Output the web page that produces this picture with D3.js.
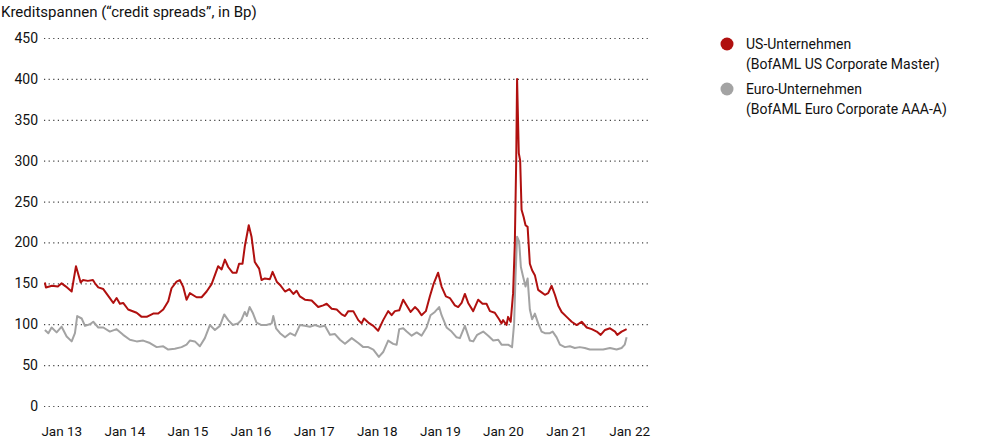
<!DOCTYPE html>
<html>
<head>
<meta charset="utf-8">
<script src="https://cdn.jsdelivr.net/npm/d3@7"></script>
<style>
  html, body { margin: 0; padding: 0; background: #fff; }
  svg { display: block; font-family: Roboto, "Noto Sans", sans-serif; }
</style>
</head>
<body>
<svg id="chart" width="993" height="442"></svg>
<script>
// ---------------- DATA ----------------
const title = "Kreditspannen (\u201Ccredit spreads\u201D, in Bp)";
const yTicks = [0, 50, 100, 150, 200, 250, 300, 350, 400, 450];
const xTickDates = ["2013-01-01","2014-01-01","2015-01-01","2016-01-01","2017-01-01","2018-01-01","2019-01-01","2020-01-01","2021-01-01","2022-01-01"];
const xTickLabels = ["Jan 13","Jan 14","Jan 15","Jan 16","Jan 17","Jan 18","Jan 19","Jan 20","Jan 21","Jan 22"];

const seriesNames = ["US-Unternehmen", "Euro-Unternehmen"];
const seriesSubNames = ["(BofAML US Corporate Master)", "(BofAML Euro Corporate AAA-A)"];

const usDates = ["2012-09-28","2012-10-04","2012-11-08","2012-12-12","2013-01-03","2013-01-28","2013-03-02","2013-03-27","2013-04-23","2013-05-06","2013-06-04","2013-07-03","2013-07-15","2013-08-03","2013-09-01","2013-10-09","2013-10-29","2013-11-17","2013-12-06","2013-12-25","2014-01-23","2014-03-13","2014-04-11","2014-05-10","2014-06-17","2014-07-16","2014-08-14","2014-09-12","2014-10-01","2014-10-30","2014-11-18","2014-12-07","2014-12-27","2015-01-15","2015-02-23","2015-03-24","2015-04-22","2015-05-21","2015-06-28","2015-07-18","2015-08-06","2015-08-25","2015-09-19","2015-10-12","2015-10-27","2015-11-16","2015-11-29","2015-12-22","2016-01-07","2016-01-26","2016-02-20","2016-03-05","2016-03-24","2016-04-22","2016-05-08","2016-06-01","2016-06-20","2016-07-19","2016-08-13","2016-09-05","2016-09-24","2016-10-13","2016-11-11","2016-12-20","2017-01-27","2017-02-25","2017-03-17","2017-04-15","2017-05-14","2017-06-12","2017-07-01","2017-07-20","2017-08-18","2017-09-16","2017-10-05","2017-10-19","2017-11-13","2017-12-12","2018-01-09","2018-02-07","2018-03-08","2018-03-28","2018-04-16","2018-05-11","2018-06-03","2018-06-23","2018-07-16","2018-08-10","2018-08-29","2018-09-17","2018-10-12","2018-11-04","2018-11-27","2018-12-22","2019-01-11","2019-02-05","2019-02-28","2019-03-29","2019-04-17","2019-05-07","2019-05-26","2019-06-14","2019-07-13","2019-08-11","2019-09-05","2019-09-28","2019-10-18","2019-11-15","2019-12-10","2019-12-24","2020-01-02","2020-01-22","2020-01-31","2020-02-15","2020-02-29","2020-03-10","2020-03-18","2020-03-23","2020-04-02","2020-04-10","2020-04-18","2020-04-30","2020-05-11","2020-05-23","2020-06-05","2020-06-18","2020-07-04","2020-07-23","2020-08-12","2020-08-31","2020-09-19","2020-10-09","2020-10-28","2020-11-16","2020-12-06","2021-01-04","2021-02-02","2021-03-03","2021-04-01","2021-04-30","2021-05-29","2021-06-27","2021-07-20","2021-08-14","2021-09-12","2021-10-11","2021-10-24","2021-11-18","2021-12-17"];
const usValues = [151,145,147,146,150,146,140,171,151,154,153,154,150,145,143,132,126,132,125,126,118,114,109,109,113,113,118,128,144,152,154,146,130,138,133,133,140,149,171,167,179,170,163,163,174,174,195,221,207,176,168,154,156,155,164,152,148,140,143,137,141,134,130,129,121,123,125,119,118,112,110,116,116,105,101,107,102,98,92,105,116,111,116,117,130,123,115,121,117,111,116,134,150,163,146,134,132,123,121,126,137,126,116,130,125,125,116,114,106,101,105,99,109,103,138,199,300,400,309,300,240,231,221,219,174,166,160,142,139,136,138,147,136,123,115,109,103,99,103,96,94,91,87,93,95,91,87,91,94];

const euDates = ["2012-09-28","2012-10-18","2012-11-06","2012-12-05","2013-01-03","2013-02-01","2013-03-02","2013-03-21","2013-04-03","2013-04-29","2013-05-18","2013-06-16","2013-07-05","2013-08-03","2013-09-01","2013-10-09","2013-11-17","2013-12-25","2014-02-02","2014-03-13","2014-04-20","2014-05-29","2014-07-07","2014-08-14","2014-09-12","2014-10-20","2014-11-28","2014-12-27","2015-01-15","2015-02-13","2015-03-14","2015-04-12","2015-05-11","2015-06-09","2015-07-08","2015-08-02","2015-08-25","2015-09-21","2015-10-20","2015-11-09","2015-11-29","2015-12-11","2015-12-27","2016-01-16","2016-02-05","2016-03-05","2016-04-03","2016-05-03","2016-05-12","2016-05-28","2016-06-20","2016-07-19","2016-08-17","2016-09-15","2016-10-13","2016-11-11","2016-12-10","2017-01-08","2017-02-06","2017-03-07","2017-04-05","2017-05-04","2017-06-02","2017-07-01","2017-08-09","2017-09-16","2017-10-15","2017-11-13","2017-12-12","2018-01-13","2018-02-07","2018-03-08","2018-04-06","2018-04-26","2018-05-11","2018-06-03","2018-06-23","2018-07-22","2018-08-20","2018-09-17","2018-10-16","2018-11-08","2018-12-03","2018-12-28","2019-01-11","2019-02-09","2019-03-10","2019-04-08","2019-04-27","2019-05-26","2019-06-24","2019-07-13","2019-08-05","2019-09-09","2019-10-08","2019-11-06","2019-12-05","2019-12-24","2020-01-31","2020-02-23","2020-03-06","2020-03-14","2020-03-23","2020-04-04","2020-04-14","2020-04-27","2020-05-11","2020-05-23","2020-06-05","2020-06-18","2020-07-04","2020-07-23","2020-08-12","2020-08-31","2020-09-29","2020-10-15","2020-11-07","2020-11-26","2020-12-25","2021-01-23","2021-02-20","2021-03-21","2021-04-19","2021-05-18","2021-06-27","2021-08-03","2021-09-12","2021-10-20","2021-11-18","2021-12-06","2021-12-17"];
const euValues = [93,89,96,90,97,85,79,89,110,107,98,100,103,96,96,91,94,87,81,79,80,77,72,73,69,70,72,75,80,79,73,83,99,93,98,112,105,99,101,105,115,110,121,113,102,99,99,101,110,95,89,84,89,86,99,98,97,99,97,98,87,88,81,76,83,77,72,72,69,60,66,80,76,75,94,95,91,86,90,86,96,111,115,121,111,96,91,84,83,98,80,79,87,91,86,80,81,75,75,72,101,158,207,201,170,158,146,156,118,106,113,101,91,89,89,91,84,75,72,73,71,72,71,69,69,69,71,69,71,75,84];

const colors = ["#b0100f", "#a3a3a3"];

// ---------------- CHART ----------------
const svg = d3.select("#chart");
const parse = d3.timeParse("%Y-%m-%d");

const x = d3.scaleTime()
  .domain([parse("2013-01-01"), parse("2022-01-01")])
  .range([61.3, 629.2]);
const y = d3.scaleLinear().domain([0, 450]).range([406, 38]);

const gridLeft = 44, gridRight = 650;

// title
svg.append("text")
  .attr("x", 1).attr("y", 17)
  .attr("font-size", 15).attr("fill", "#111")
  .text(title);

// y axis with dotted gridlines
const yAxis = d3.axisLeft(y)
  .tickValues(yTicks)
  .tickSize(-(gridRight - gridLeft))
  .tickPadding(6)
  .tickFormat(d3.format("d"));
const gy = svg.append("g")
  .attr("transform", `translate(${gridLeft},0)`)
  .call(yAxis);
gy.select(".domain").remove();
gy.selectAll(".tick line")
  .attr("stroke", "#444")
  .attr("stroke-width", 1.2)
  .attr("stroke-dasharray", "1.2,3.4");
gy.selectAll(".tick text")
  .attr("font-size", 14).attr("fill", "#111")
  .attr("font-family", "Roboto, sans-serif");

// x axis labels
const xAxis = d3.axisBottom(x)
  .tickValues(xTickDates.map(parse))
  .tickSize(0)
  .tickPadding(20)
  .tickFormat((d, i) => xTickLabels[i]);
const gx = svg.append("g")
  .attr("transform", "translate(0,406)")
  .call(xAxis);
gx.select(".domain").remove();
gx.selectAll(".tick text")
  .attr("font-size", 13.5).attr("fill", "#111")
  .attr("font-family", "Roboto, sans-serif");

// lines
const line = d3.line()
  .x(d => x(d[0]))
  .y(d => y(d[1]))
  .curve(d3.curveLinear);

const euData = euDates.map((d, i) => [parse(d), euValues[i]]);
const usData = usDates.map((d, i) => [parse(d), usValues[i]]);

svg.append("path")
  .datum(euData)
  .attr("fill", "none")
  .attr("stroke", colors[1])
  .attr("stroke-width", 2)
  .attr("stroke-linejoin", "round")
  .attr("d", line);

svg.append("path")
  .datum(usData)
  .attr("fill", "none")
  .attr("stroke", colors[0])
  .attr("stroke-width", 2)
  .attr("stroke-linejoin", "round")
  .attr("d", line);

// legend
const legend = svg.append("g").attr("transform", "translate(727,44)");
seriesNames.forEach((name, i) => {
  const g = legend.append("g").attr("transform", `translate(0,${i * 45})`);
  g.append("circle").attr("r", 6.5).attr("fill", colors[i]);
  g.append("text")
    .attr("x", 19).attr("y", 5)
    .attr("font-size", 14).attr("fill", "#111")
    .text(name);
  g.append("text")
    .attr("x", 19).attr("y", 25)
    .attr("font-size", 14).attr("fill", "#111")
    .text(seriesSubNames[i]);
});
</script>
</body>
</html>
